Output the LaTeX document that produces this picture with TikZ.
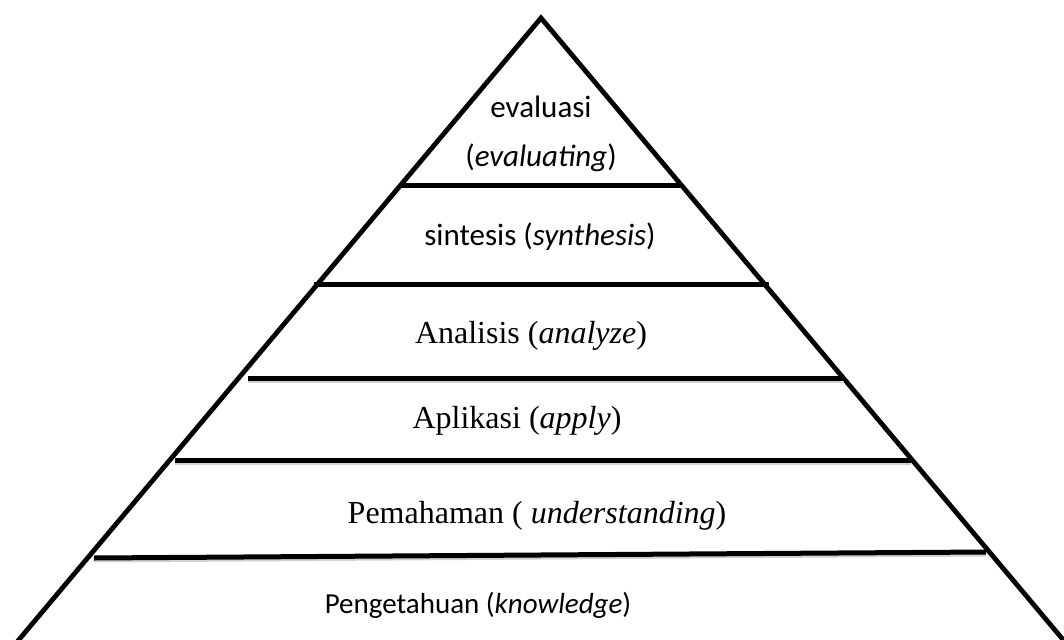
\documentclass[tikz,border=0pt]{standalone}
\usepackage{graphicx}
\usepackage{fontspec}
\setmainfont{Liberation Serif}
\newfontfamily\calibri{Carlito}
\begin{document}
\begin{tikzpicture}[x=1pt,y=-1pt,
  side/.style={line width=4.8pt, line join=miter},
  tier/.style={line width=5pt},
  tiershadow/.style={line width=3pt, black!18},
  sanslabel/.style={font=\calibri\fontsize{31}{36}\selectfont, inner sep=0pt, anchor=base},
  seriflabel/.style={font=\fontsize{32}{38}\selectfont, inner sep=0pt, anchor=base}]
\useasboundingbox (0,0) rectangle (1064,639);
\fill[white] (0,0) rectangle (1064,639);
% pyramid sides
\begin{scope}
\clip (0,0) rectangle (1064,639);
\coordinate (apex) at (541,18);
\coordinate (bl) at (17,642);
\coordinate (br) at (1065,642);
\draw[side] (bl) -- (apex) -- (br);
\end{scope}
% tier lines
\coordinate (l1a) at (401,185); \coordinate (l1b) at (683,185);
\coordinate (l2a) at (314,284); \coordinate (l2b) at (769,284);
\coordinate (l3a) at (248,378); \coordinate (l3b) at (844,378);
\coordinate (l4a) at (175,460); \coordinate (l4b) at (911,460);
\coordinate (l5a) at (94,558);  \coordinate (l5b) at (986,552);
\draw[tiershadow] ([yshift=-3pt]l3a) -- ([yshift=-3pt]l3b);
\draw[tiershadow] ([yshift=-3pt]l4a) -- ([yshift=-3pt]l4b);
\draw[tiershadow] ([yshift=-3pt]l5a) -- ([yshift=-3pt]l5b);
\draw[tier] (l1a) -- (l1b);
\draw[tier] (l2a) -- (l2b);
\draw[tier] (l3a) -- (l3b);
\draw[tier] (l4a) -- (l4b);
\draw[tier] (l5a) -- (l5b);
% labels
\node[sanslabel] (eval1) at (541,118) {evaluasi};
\node[sanslabel] (eval2) at (541,167) {(\textit{evaluating})};
\node[sanslabel] (sint) at (540,245) {sintesis (\textit{synthesis})};
\node[seriflabel] (anal) at (531,343) {Analisis (\textit{analyze})};
\node[seriflabel] (apli) at (517,428) {Aplikasi (\textit{apply})};
\node[seriflabel] (pema) at (537,523) {Pemahaman ( \textit{understanding})};
\node[sanslabel, font=\calibri\fontsize{29}{34}\selectfont] (peng) at (478,613) {Pengetahuan (\textit{knowledge})};
\end{tikzpicture}
\end{document}
